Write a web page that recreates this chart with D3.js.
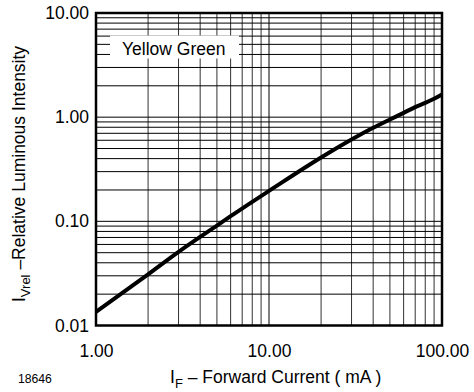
<!DOCTYPE html>
<html>
<head>
<meta charset="utf-8">
<script src="https://cdn.jsdelivr.net/npm/d3@7"></script>
<style>
  html, body { margin: 0; padding: 0; background: #fff; }
  svg { display: block; font-family: "Liberation Sans", Arial, sans-serif; }
</style>
</head>
<body>
<svg id="chart" width="474" height="392"></svg>
<script>
// forward current (mA) and relative luminous intensity
const currentMA = [1, 2, 3, 4, 5, 6, 8, 10, 20, 30, 40, 50, 60, 70, 80, 90, 100]
const relIntensity = [0.0135, 0.031, 0.051, 0.071, 0.091, 0.112, 0.154, 0.196, 0.41, 0.61, 0.79, 0.95, 1.10, 1.25, 1.37, 1.50, 1.65]

const xTickValues = [1, 10, 100]
const yTickValues = [0.01, 0.1, 1, 10]
const legendLabel = "Yellow Green"
const figureId = "18646"

const svg = d3.select("#chart")
const plotLeft = 96, plotRight = 442, plotTop = 13, plotBottom = 325.5
const fontSize = 17.5

const x = d3.scaleLog().domain([1, 100]).range([plotLeft, plotRight])
const y = d3.scaleLog().domain([0.01, 10]).range([plotBottom, plotTop])

// grid
const grid = svg.append("g").attr("class", "grid")

grid.selectAll(".vline")
  .data(x.ticks())
  .join("line")
  .attr("class", "vline")
  .attr("x1", d => x(d)).attr("x2", d => x(d))
  .attr("y1", plotTop).attr("y2", plotBottom)
  .attr("stroke", d => d === 10 ? "#000" : "#333")
  .attr("stroke-width", 1)

grid.selectAll(".hline")
  .data(y.ticks())
  .join("line")
  .attr("class", "hline")
  .attr("x1", plotLeft).attr("x2", plotRight)
  .attr("y1", d => y(d)).attr("y2", d => y(d))
  .attr("stroke", "#000")
  .attr("stroke-width", 1)

// legend box covers the grid
svg.append("rect")
  .attr("x", 110).attr("y", 35.5)
  .attr("width", 129).attr("height", 23)
  .attr("fill", "#fff")

svg.append("text")
  .attr("x", 122).attr("y", 55)
  .attr("font-size", fontSize)
  .attr("fill", "#000")
  .text(legendLabel)

// curve
const line = d3.line()
  .x((d, i) => x(currentMA[i]))
  .y(d => y(d))
  .curve(d3.curveMonotoneX)

svg.append("path")
  .datum(relIntensity)
  .attr("d", line)
  .attr("fill", "none")
  .attr("stroke", "#000")
  .attr("stroke-width", 4)
  .attr("stroke-linejoin", "round")

// frame
svg.append("rect")
  .attr("x", plotLeft).attr("y", plotTop)
  .attr("width", plotRight - plotLeft).attr("height", plotBottom - plotTop)
  .attr("fill", "none")
  .attr("stroke", "#000")
  .attr("stroke-width", 2.5)

// axes labels
const fmt = d3.format(".2f")

const yAxis = svg.append("g")
  .attr("transform", `translate(${plotLeft},0)`)
  .call(d3.axisLeft(y).tickValues(yTickValues).tickFormat(fmt).tickSize(0).tickPadding(7))
yAxis.select(".domain").remove()
yAxis.selectAll("text").attr("font-size", fontSize)
yAxis.attr("font-family", null).attr("font-size", null)

const xAxis = svg.append("g")
  .attr("transform", `translate(0,${plotBottom})`)
  .call(d3.axisBottom(x).tickValues(xTickValues).tickFormat(fmt).tickSize(0).tickPadding(19.4))
xAxis.select(".domain").remove()
xAxis.selectAll("text").attr("font-size", fontSize)
xAxis.attr("font-family", null).attr("font-size", null)

// axis titles
const xTitle = svg.append("text")
  .attr("x", 170).attr("y", 383)
  .attr("font-size", fontSize)
xTitle.append("tspan").text("I")
xTitle.append("tspan").attr("dy", 5).attr("font-size", 13).text("F")
xTitle.append("tspan").attr("dy", -5).text(" \u2013 Forward Current ( mA )")

const yTitle = svg.append("text")
  .attr("transform", "translate(25,302) rotate(-90)")
  .attr("font-size", fontSize)
yTitle.append("tspan").text("I")
yTitle.append("tspan").attr("dy", 5).attr("font-size", 13).text("Vrel")
yTitle.append("tspan").attr("dy", -5).text(" \u2013Relative Luminous Intensity")

svg.append("text")
  .attr("x", 18).attr("y", 383)
  .attr("font-size", 12.2)
  .text(figureId)
</script>
</body>
</html>
